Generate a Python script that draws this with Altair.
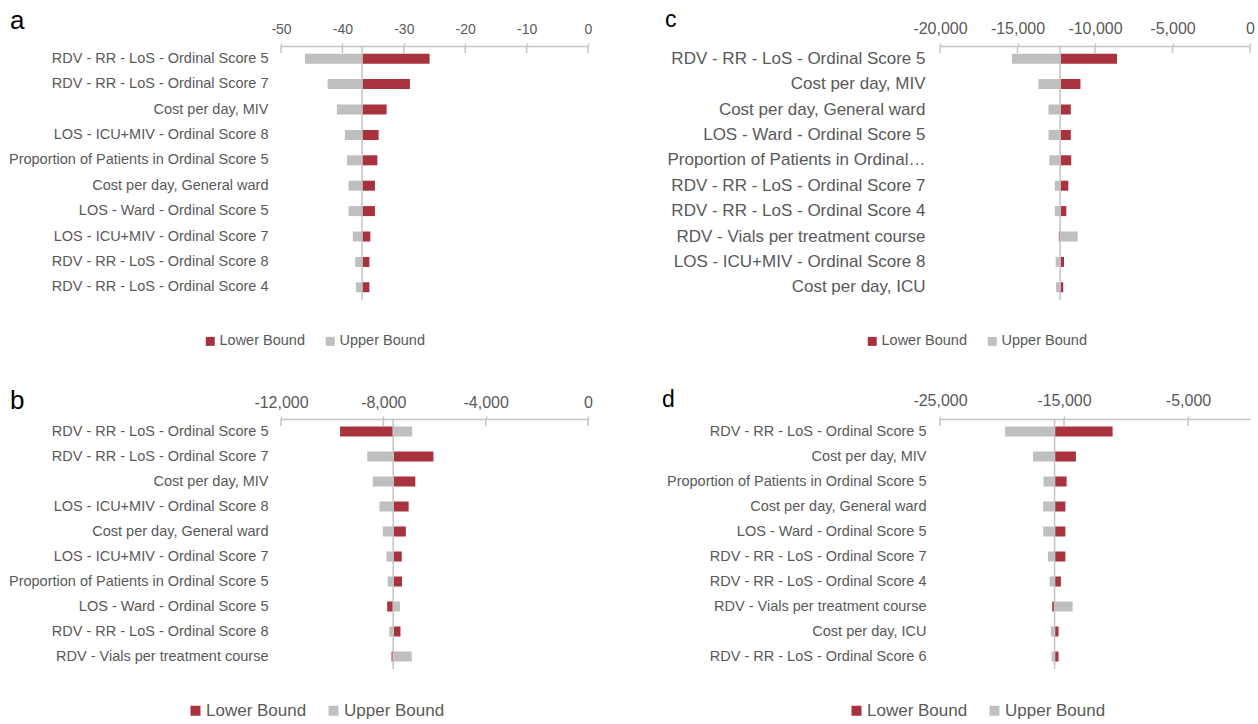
import altair as alt
import pandas as pd

FONT = "Liberation Sans"
TXT = "#595959"
AX = "#C4C4C4"
RED = "#A8323E"
GRAY = "#BFBFBF"
BOUNDS = ["Lower Bound", "Upper Bound"]

# ---------------- data ----------------
params_a = ["RDV - RR - LoS - Ordinal Score 5", "RDV - RR - LoS - Ordinal Score 7", "Cost per day, MIV",
            "LOS - ICU+MIV - Ordinal Score 8", "Proportion of Patients in Ordinal Score 5",
            "Cost per day, General ward", "LOS - Ward - Ordinal Score 5", "LOS - ICU+MIV - Ordinal Score 7",
            "RDV - RR - LoS - Ordinal Score 8", "RDV - RR - LoS - Ordinal Score 4"]
lower_a = [-25.8, -29.0, -32.8, -34.1, -34.3, -34.7, -34.7, -35.45, -35.6, -35.6]
upper_a = [-46.1, -42.4, -40.9, -39.6, -39.25, -39.0, -39.0, -38.3, -37.9, -37.8]
base_a = -36.8
ticks_a = [-50, -40, -30, -20, -10, 0]

params_b = ["RDV - RR - LoS - Ordinal Score 5", "RDV - RR - LoS - Ordinal Score 7", "Cost per day, MIV",
            "LOS - ICU+MIV - Ordinal Score 8", "Cost per day, General ward", "LOS - ICU+MIV - Ordinal Score 7",
            "Proportion of Patients in Ordinal Score 5", "LOS - Ward - Ordinal Score 5",
            "RDV - RR - LoS - Ordinal Score 8", "RDV - Vials per treatment course"]
lower_b = [-9690, -6040, -6750, -7010, -7120, -7280, -7270, -7850, -7330, -7680]
upper_b = [-6870, -8630, -8410, -8150, -8020, -7880, -7830, -7350, -7770, -6890]
base_b = -7615
ticks_b = [-12000, -8000, -4000, 0]

params_c = ["RDV - RR - LoS - Ordinal Score 5", "Cost per day, MIV", "Cost per day, General ward",
            "LOS - Ward - Ordinal Score 5", "Proportion of Patients in Ordinal…",
            "RDV - RR - LoS - Ordinal Score 7", "RDV - RR - LoS - Ordinal Score 4",
            "RDV - Vials per treatment course", "LOS - ICU+MIV - Ordinal Score 8", "Cost per day, ICU"]
lower_c = [-8580, -10940, -11560, -11560, -11535, -11720, -11850, -12330, -12000, -12050]
upper_c = [-15360, -13650, -13000, -13000, -12950, -12590, -12590, -11120, -12540, -12520]
base_c = -12250
ticks_c = [-20000, -15000, -10000, -5000, 0]

params_d = ["RDV - RR - LoS - Ordinal Score 5", "Cost per day, MIV", "Proportion of Patients in Ordinal Score 5",
            "Cost per day, General ward", "LOS - Ward - Ordinal Score 5", "RDV - RR - LoS - Ordinal Score 7",
            "RDV - RR - LoS - Ordinal Score 4", "RDV - Vials per treatment course", "Cost per day, ICU",
            "RDV - RR - LoS - Ordinal Score 6"]
lower_d = [-11080, -14040, -14790, -14890, -14890, -14890, -15250, -15950, -15440, -15440]
upper_d = [-19750, -17500, -16650, -16680, -16680, -16290, -16160, -14300, -16060, -16000]
base_d = -15760
ticks_d = [-25000, -15000, -5000]

LABEL_EXPR = "replace(format(datum.value, ','), '\u2212', '-')"


def panel(letter, params, lower, upper, base, domain, ticks, width, height,
          tick_fs, tick_pad, lab_fs, lab_pad, leg_fs, leg_sym, leg_x, leg_y,
          title_fs, title_dx, title_dy):
    rows = []
    for p, lo, up in zip(params, lower, upper):
        rows.append({"param": p, "bound": "Lower Bound", "value": lo, "base": base})
        rows.append({"param": p, "bound": "Upper Bound", "value": up, "base": base})
    df = pd.DataFrame(rows)
    xscale = alt.Scale(domain=domain, nice=False, zero=False)
    xaxis = alt.Axis(orient="top", values=ticks, labelExpr=LABEL_EXPR, title=None, grid=False,
                     domainColor=AX, domainWidth=1.5, tickColor=AX, tickWidth=1.5,
                     tickSize=3, labelFontSize=tick_fs, labelColor=TXT, labelFont=FONT,
                     labelPadding=tick_pad, labelFlush=False)

    bars = alt.Chart(df).mark_bar(size=10).encode(
        y=alt.Y("param:N", sort=params,
                axis=alt.Axis(title=None, domain=False, ticks=False, labelFontSize=lab_fs,
                              labelColor=TXT, labelFont=FONT, labelPadding=lab_pad, labelLimit=500)),
        x=alt.X("value:Q", scale=xscale, axis=xaxis),
        x2="base:Q",
        color=alt.Color("bound:N",
                        scale=alt.Scale(domain=BOUNDS, range=[RED, GRAY]),
                        legend=alt.Legend(title=None, orient="none", legendX=leg_x, legendY=leg_y,
                                          direction="horizontal", symbolType="square",
                                          symbolSize=leg_sym, symbolStrokeWidth=0,
                                          labelFontSize=leg_fs, labelColor=TXT, labelFont=FONT,
                                          labelOffset=2, columnPadding=18))
    )

    baseline = alt.Chart(pd.DataFrame({"base": [base]})).mark_rule(
        color=AX, strokeWidth=1.5
    ).encode(
        x=alt.X("base:Q", scale=xscale, axis=xaxis),
        y=alt.value(0), y2=alt.value(height)
    )

    tickdown = alt.Chart(pd.DataFrame({"t": ticks})).mark_rule(
        color=AX, strokeWidth=1.5
    ).encode(
        x=alt.X("t:Q", scale=xscale, axis=xaxis),
        y=alt.value(0), y2=alt.value(7)
    )

    return alt.layer(bars, baseline, tickdown).properties(
        width=width, height=height,
        title=alt.TitleParams(letter, anchor="start", frame="group", fontSize=title_fs,
                              font=FONT, fontWeight="normal", color="black",
                              dx=title_dx, dy=title_dy)
    )


pa = panel("a", params_a, lower_a, upper_a, base_a, [-50, 0], ticks_a, 307, 254,
           14, 7, 14.5, 13, 14.5, 81, -78, 288, 26, -271, 16)
pc = panel("c", params_c, lower_c, upper_c, base_c, [-20000, 0], ticks_c, 310, 254,
           16, 7, 17, 15, 14.5, 81, -75, 288, 23, -275, 16)
pb = panel("b", params_b, lower_b, upper_b, base_b, [-12000, 0], ticks_b, 307, 250,
           16, 6, 14.5, 13, 17, 100, -94, 283, 26, -271, 24)
pd_ = panel("d", params_d, lower_d, upper_d, base_d, [-25000, 0], ticks_d, 310, 250,
            16, 8, 14.5, 14, 17, 100, -92, 283, 23, -278, 24)

chart = alt.concat(pa, pc, pb, pd_, columns=2, spacing={"row": 119, "column": 352},
                   bounds="flush").resolve_scale(color="independent").resolve_legend(
    color="independent"
).properties(
    padding={"left": 8, "top": 8, "right": 0, "bottom": 0},
    background="white"
).configure_view(stroke=None)

chart.save("out.html", embed_options={"renderer": "svg", "actions": False})
